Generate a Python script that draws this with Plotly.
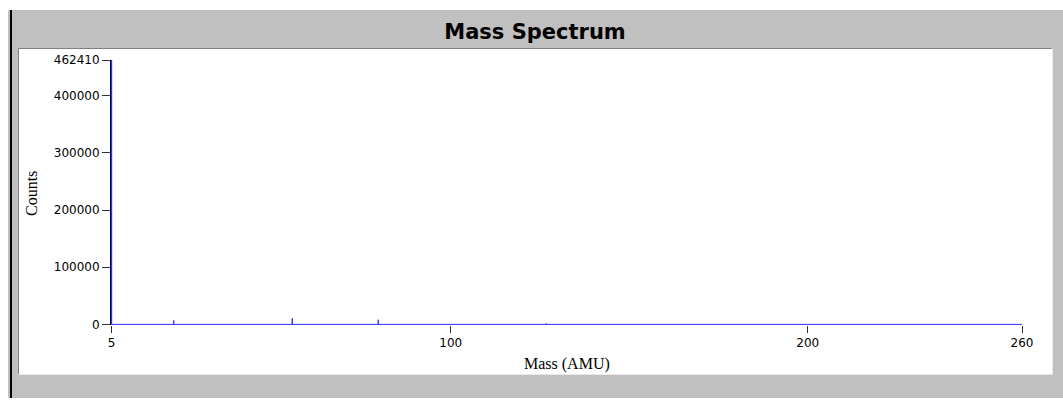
import plotly.graph_objects as go

# ---- data ----
peak_mass = [5, 22.4, 55.6, 79.7, 126.8]
peak_counts = [462410, 6980, 10500, 8200, 1700]
mass_range = [5, 260]
count_range = [0, 462410]
x_tick_vals = [5, 100, 200, 260]
x_tick_text = ["5", "100", "200", "260"]
y_tick_vals = [0, 100000, 200000, 300000, 400000, 462410]
y_tick_text = ["0", "100000", "200000", "300000", "400000", "462410"]

# build stick-spectrum path along the baseline
xs, ys = [], []
for m, c in zip(peak_mass, peak_counts):
    xs += [m, m, m]
    ys += [0, c, 0]
xs.append(mass_range[1])
ys.append(0)

W, H = 1063, 401
L, R, T, B = 111, 1022, 60, 325

# half-pixel padding so the edge strokes are not clipped
x_pad = 0.6 * (mass_range[1] - mass_range[0]) / (R - L)
y_pad = 0.6 * (count_range[1] - count_range[0]) / (B - T)


def px(x):
    return (x - L) / (R - L)


def py(y):
    return (B - y) / (B - T)


fig = go.Figure()
fig.add_trace(go.Scatter(x=xs, y=ys, mode="lines",
                         line=dict(color="#2b2bff", width=1),
                         hoverinfo="skip", showlegend=False))

shapes = [
    dict(type="rect", xref="paper", yref="paper", x0=px(8), x1=px(1063), y0=py(10), y1=py(398),
         fillcolor="#c0c0c0", line=dict(width=0), layer="below"),
    dict(type="rect", xref="paper", yref="paper", x0=px(10), x1=px(12), y0=py(10), y1=py(398),
         fillcolor="#000000", line=dict(width=0), layer="below"),
    dict(type="rect", xref="paper", yref="paper", x0=px(19), x1=px(1052), y0=py(49), y1=py(374),
         fillcolor="#ffffff", line=dict(width=0), layer="below"),
    dict(type="line", xref="paper", yref="paper", x0=px(18.5), x1=px(1052), y0=py(48.5), y1=py(48.5),
         line=dict(color="#808080", width=1), layer="below"),
    dict(type="line", xref="paper", yref="paper", x0=px(18.5), x1=px(18.5), y0=py(48.5), y1=py(374),
         line=dict(color="#808080", width=1), layer="below"),
    dict(type="line", xref="paper", yref="paper", x0=px(1052.5), x1=px(1052.5), y0=py(48.5), y1=py(374.5),
         line=dict(color="#e8e8e8", width=1), layer="below"),
    dict(type="line", xref="paper", yref="paper", x0=px(18.5), x1=px(1052.5), y0=py(374.5), y1=py(374.5),
         line=dict(color="#e8e8e8", width=1), layer="below"),
]

annotations = [
    dict(text="Mass (AMU)", xref="paper", yref="paper", x=0.5, y=py(364),
         xanchor="center", yanchor="middle", showarrow=False,
         font=dict(family="Liberation Serif", size=16, color="#000000")),
    dict(text="Counts", xref="paper", yref="paper", x=px(31), y=py(194),
         xanchor="center", yanchor="middle", showarrow=False, textangle=-90,
         font=dict(family="Liberation Serif", size=16, color="#000000")),
]

fig.update_layout(
    width=W, height=H,
    margin=dict(l=L, r=W - R, t=T, b=H - B, pad=0),
    paper_bgcolor="#ffffff", plot_bgcolor="#ffffff",
    title=dict(text="<b>Mass Spectrum</b>", x=535 / W, xanchor="center",
               xref="container", yref="container", y=1 - 32 / H, yanchor="middle",
               font=dict(family="DejaVu Sans", size=21, color="#000000")),
    shapes=shapes, annotations=annotations,
    xaxis=dict(range=[mass_range[0] - x_pad, mass_range[1]], tickvals=x_tick_vals, ticktext=x_tick_text,
               showgrid=False, zeroline=False, showline=False,
               ticks="outside", ticklen=7, tickcolor="#333333", tickwidth=1,
               tickfont=dict(family="DejaVu Sans", size=12, color="#000000"),
               layer="below traces", fixedrange=True),
    yaxis=dict(range=[count_range[0] - y_pad, count_range[1]], tickvals=y_tick_vals, ticktext=y_tick_text,
               showgrid=False, zeroline=False, showline=True, linecolor="#000000", linewidth=1,
               ticks="outside", ticklen=8, tickcolor="#333333", tickwidth=1,
               tickfont=dict(family="DejaVu Sans", size=12, color="#000000"),
               layer="below traces", fixedrange=True),
    font=dict(family="DejaVu Sans"),
)

fig.write_html("out.html", config={"displayModeBar": False},
               post_script="document.body.style.margin='0px';document.body.style.padding='0px';")
